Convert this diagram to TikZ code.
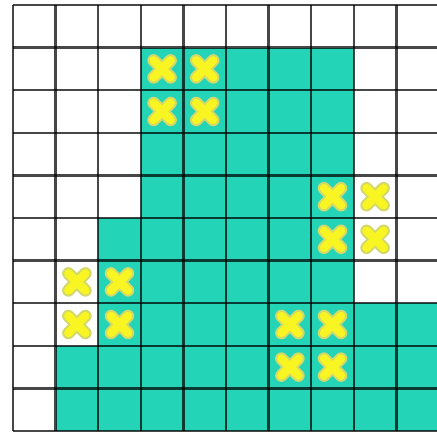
\documentclass[tikz,border=0pt]{standalone}
\definecolor{tealc}{HTML}{24D4B6}
\definecolor{xyellow}{HTML}{F8F522}
\definecolor{xedge}{HTML}{D2D86A}
\tikzset{
  cellfill/.style={fill=tealc},
  gridline/.style={draw=black, draw opacity=0.72, line width=2.4pt},
  xmark/.pic={
    \draw[xedge, line width=12.5pt, line cap=round] (-0.2,-0.2) -- (0.2,0.2) (-0.2,0.2) -- (0.2,-0.2);
    \draw[xyellow, line width=8.5pt, line cap=round] (-0.2,-0.2) -- (0.2,0.2) (-0.2,0.2) -- (0.2,-0.2);
  }
}
\begin{document}
\begin{tikzpicture}
\useasboundingbox (0pt,0pt) rectangle (437pt,-433pt);
\clip (0pt,0pt) rectangle (437pt,-433pt);
\fill[white] (0pt,0pt) rectangle (437pt,-433pt);
\begin{scope}[shift={(13pt,-5pt)}, x=42.6pt, y=-42.6pt]
  \fill[cellfill] (3,1) rectangle (8,5);
  \fill[cellfill] (2,5) rectangle (8,7);
  \fill[cellfill] (2,7) rectangle (10,8);
  \fill[cellfill] (1,8) rectangle (10,10);
  \foreach \i in {0,...,10} {
    \draw[gridline] (\i,0) -- (\i,10);
    \draw[gridline] (0,\i) -- (10,\i);
  }
  \foreach \c/\r in {3/1,4/1,3/2,4/2,7/4,8/4,7/5,8/5,1/6,2/6,1/7,2/7,6/7,7/7,6/8,7/8}
    \path (\c+0.5,\r+0.5) pic {xmark};
\end{scope}
\end{tikzpicture}
\end{document}
